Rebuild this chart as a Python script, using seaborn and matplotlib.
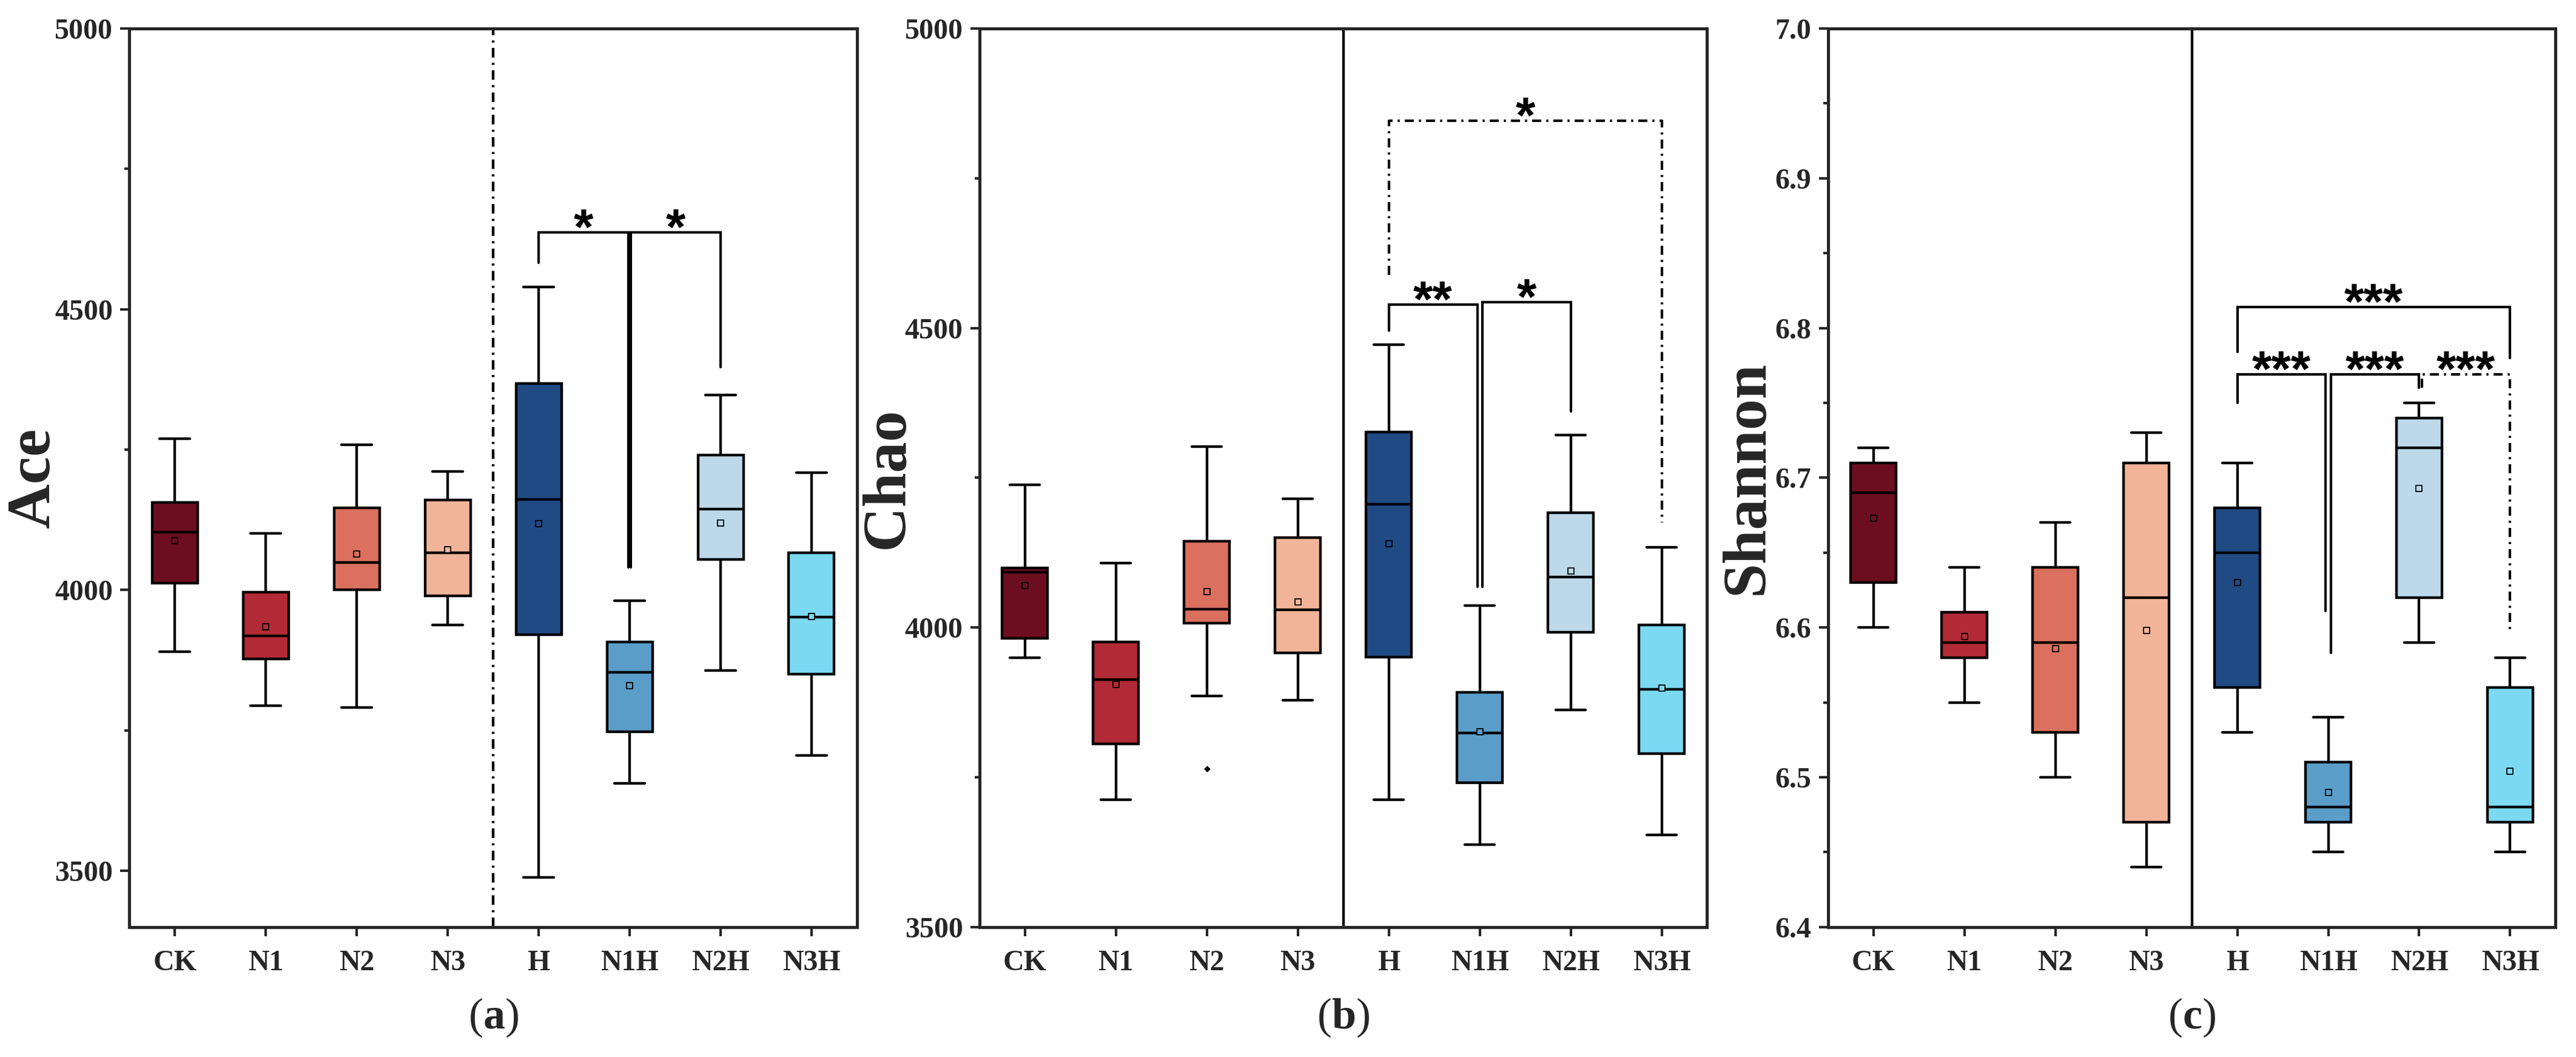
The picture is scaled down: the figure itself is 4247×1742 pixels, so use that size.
import numpy as np
import pandas as pd
import matplotlib
matplotlib.use("Agg")
import matplotlib.pyplot as plt
from matplotlib.ticker import MultipleLocator, FormatStrFormatter
import seaborn as sns

# ---------------- data ----------------
GROUPS = ["CK", "N1", "N2", "N3", "H", "N1H", "N2H", "N3H"]
COLORS = ["#6d0e20", "#b22a35", "#da705d", "#f2b498",
          "#204a84", "#5a9dc8", "#bcd8e9", "#7bd9f2"]

# Ace
ace_low  = [3890, 3794, 3791, 3938, 3488, 3656, 3857, 3706]
ace_q1   = [4012, 3877, 4000, 3990, 3921, 3748, 4054, 3850]
ace_med  = [4103, 3918, 4049, 4066, 4162, 3854, 4144, 3952]
ace_q3   = [4156, 3996, 4146, 4160, 4368, 3908, 4240, 4066]
ace_high = [4270, 4101, 4259, 4211, 4540, 3981, 4347, 4209]
ace_mean = [4088, 3935, 4064, 4072, 4118, 3830, 4119, 3953]

# Chao
chao_low  = [3950, 3712, 3886, 3879, 3712, 3637, 3862, 3654]
chao_q1   = [3982, 3806, 4007, 3958, 3951, 3741, 3992, 3789]
chao_med  = [4092, 3913, 4031, 4030, 4206, 3824, 4084, 3897]
chao_q3   = [4099, 3976, 4144, 4150, 4326, 3892, 4192, 4004]
chao_high = [4238, 4108, 4302, 4215, 4472, 4037, 4321, 4134]
chao_mean = [4070, 3905, 4060, 4043, 4140, 3826, 4094, 3899]
chao_outlier_group = ["N2"]
chao_outlier_value = [3764]

# Shannon
sh_low  = [6.60, 6.55, 6.50, 6.44, 6.53, 6.45, 6.59, 6.45]
sh_q1   = [6.63, 6.58, 6.53, 6.47, 6.56, 6.47, 6.62, 6.47]
sh_med  = [6.69, 6.59, 6.59, 6.62, 6.65, 6.48, 6.72, 6.48]
sh_q3   = [6.71, 6.61, 6.64, 6.71, 6.68, 6.51, 6.74, 6.56]
sh_high = [6.72, 6.64, 6.67, 6.73, 6.71, 6.54, 6.75, 6.58]
sh_mean = [6.673, 6.594, 6.586, 6.598, 6.630, 6.490, 6.693, 6.504]

# significance brackets: (left group, right group, bracket y, left leg end, right leg end, label, style)
ace_sig = [("H", "N1H", 4637, 4583, 4040, "*", "-"),
           ("N1H", "N2H", 4637, 4040, 4397, "*", "-")]
chao_sig = [("H", "N1H", 4539, 4496, 4068, "**", "-"),
            ("N1H", "N2H", 4543, 4068, 4361, "*", "-"),
            ("H", "N3H", 4846, 4589, 4175, "*", "-.")]
sh_sig = [("H", "N3H", 6.814, 6.784, 6.780, "***", "-"),
          ("H", "N1H", 6.769, 6.750, 6.611, "***", "-"),
          ("N1H", "N2H", 6.769, 6.583, 6.760, "***", "-"),
          ("N2H", "N3H", 6.769, 6.760, 6.596, "***", "-.")]

# ---------------- style ----------------
sns.set_theme(style="ticks")
plt.rcParams["font.family"] = ["Liberation Serif", "DejaVu Serif"]
plt.rcParams["mathtext.fontset"] = "custom"
plt.rcParams["mathtext.rm"] = "Liberation Serif"
plt.rcParams["mathtext.bf"] = "Liberation Serif:bold"
plt.rcParams["axes.linewidth"] = 1.2

palette = dict(zip(GROUPS, COLORS))
DASHDOT = (0, (3.6, 2.0, 0.8, 2.0))

fig = plt.figure(figsize=(4247 / 300, 1742 / 300), dpi=300)
lefts = [0.0502, 0.3802, 0.7096]
W, B, H = 0.2825, 0.123, 0.850
PX = 1.0 / (H * 1742)  # one pixel in axes-height units


def long_df(low, q1, med, q3, high):
    rows = []
    for g, a, b, c, d, e in zip(GROUPS, low, q1, med, q3, high):
        for v in (a, b, c, d, e):
            rows.append((g, v))
    return pd.DataFrame(rows, columns=["group", "value"])


def draw_panel(ax, low, q1, med, q3, high, mean, ylabel, ylim, major, minor, fmt,
               divider_style, sigs, leg_off, letter, ylab_x):
    df = long_df(low, q1, med, q3, high)
    sns.boxplot(data=df, x="group", y="value", hue="group", order=GROUPS,
                hue_order=GROUPS, palette=palette, saturation=1, legend=False,
                width=0.5, whis=(0, 100), showfliers=False, linewidth=1.05,
                linecolor="black", capwidths=0.33, ax=ax)
    sns.stripplot(x=GROUPS, y=mean, hue=GROUPS, order=GROUPS, hue_order=GROUPS,
                  palette=palette, legend=False, marker="s", size=2.6, jitter=False,
                  linewidth=0.45, edgecolor="black", ax=ax, zorder=6)
    ax.set_xlim(-0.5, 7.5)
    ax.set_ylim(*ylim)
    dls = DASHDOT if divider_style == "-." else "-"
    ax.axvline(3.5, color="black", lw=1.05, ls=dls)
    ax.yaxis.set_major_locator(MultipleLocator(major))
    ax.yaxis.set_minor_locator(MultipleLocator(minor))
    ax.yaxis.set_major_formatter(FormatStrFormatter(fmt))
    ax.tick_params(axis="both", which="major", direction="out", length=3.5,
                   width=1.0, labelsize=11.5)
    ax.tick_params(axis="y", which="major", pad=3)
    ax.tick_params(axis="x", which="major", pad=5.5)
    ax.tick_params(axis="y", which="minor", direction="out", length=1.9, width=1.0)
    for lab in ax.get_xticklabels() + ax.get_yticklabels():
        lab.set_fontweight("bold")
    ax.set_xlabel("")
    ax.set_ylabel(ylabel, fontsize=24.5, fontweight="bold")
    ax.yaxis.set_label_coords(ylab_x, 0.5)
    for sp in ax.spines.values():
        sp.set_visible(True)
        sp.set_linewidth(1.2)
    # significance brackets
    span = ylim[1] - ylim[0]
    for (g1, g2, y, y1, y2, lab, ls) in sigs:
        i1, i2 = GROUPS.index(g1), GROUPS.index(g2)
        x1 = i1 + (leg_off if g1 in ("N1H", "N2H") else 0.0)
        x2 = i2 - (leg_off if g2 == "N1H" else 0.0)
        lstyle = DASHDOT if ls == "-." else "-"
        ax.plot([x1, x1, x2, x2], [y1, y, y, y2], color="black", lw=1.0,
                ls=lstyle, solid_joinstyle="miter", zorder=4)
        ax.text((x1 + x2) / 2, y + 2 * PX * span, lab, ha="center", va="center",
                fontsize=20, fontweight="bold", color="black",
                family=["Liberation Sans", "DejaVu Sans"])
    ax.text(0.5, -0.101, r"$(\mathbf{%s})$" % letter, transform=ax.transAxes,
            ha="center", va="center", fontsize=17.3)


axA = fig.add_axes([lefts[0], B, W, H])
draw_panel(axA, ace_low, ace_q1, ace_med, ace_q3, ace_high, ace_mean, "Ace",
           (3400, 5000), 500, 250, "%d", "-.", ace_sig, 0.012, "a", -0.092)

axB = fig.add_axes([lefts[1], B, W, H])
draw_panel(axB, chao_low, chao_q1, chao_med, chao_q3, chao_high, chao_mean, "Chao",
           (3500, 5000), 500, 250, "%d", "-", chao_sig, 0.027, "b", -0.087)
sns.stripplot(x=chao_outlier_group, y=chao_outlier_value, order=GROUPS,
              color="black", marker="D", size=1.8, jitter=False, ax=axB, zorder=6)
axB.set_xlim(-0.5, 7.5)

axC = fig.add_axes([lefts[2], B, W, H])
draw_panel(axC, sh_low, sh_q1, sh_med, sh_q3, sh_high, sh_mean, "Shannon",
           (6.4, 7.0), 0.1, 0.05, "%.1f", "-", sh_sig, 0.03, "c", -0.071)

fig.savefig("out.png", dpi=300)
